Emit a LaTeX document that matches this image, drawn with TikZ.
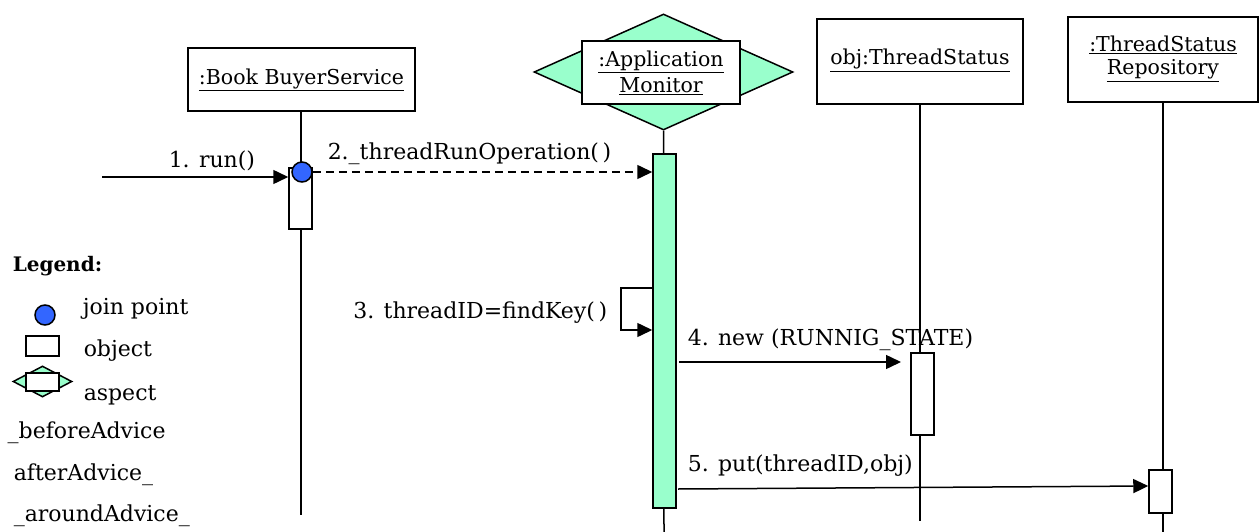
\documentclass[tikz,border=0pt]{standalone}
\usepackage{fontspec}
\setmainfont{DejaVu Serif}
\usetikzlibrary{arrows.meta,shapes.geometric}
\definecolor{mint}{RGB}{153,255,204}
\definecolor{jpblue}{RGB}{51,102,255}
\begin{document}
\begin{tikzpicture}[x=1pt,y=-1pt,line width=1.5pt,
  txt/.style={font=\fontsize{22}{26}\selectfont,inner sep=0pt},
  objbox/.style={draw,fill=white,inner sep=0pt,align=center,font=\fontsize{20.5}{26}\selectfont},
  actbar/.style={draw,fill=white,inner sep=0pt,minimum width=23pt},
  aspbar/.style={draw,fill=mint,inner sep=0pt,minimum width=23pt},
  aspdiamond/.style={draw,fill=mint,diamond,inner sep=0pt},
  jp/.style={draw,fill=jpblue,circle,inner sep=0pt,minimum size=20pt},
  msg/.style={-{Triangle[length=15pt,width=14pt]}},
  dmsg/.style={msg,dash pattern=on 8pt off 5pt}]
\useasboundingbox (0,0) rectangle (1260,532);

% ---------- objects ----------
\node[objbox,minimum width=227pt,minimum height=63pt] (bbs) at (301.5,79.5) {\raisebox{-3pt}{\underline{:Book BuyerService}}};
\node[aspdiamond,minimum width=259pt,minimum height=116pt,aspect=2.23] (amd) at (663.5,72) {};
\node[objbox,minimum width=158pt,minimum height=63pt] (am) at (661,72.5) {\underline{:Application}\\\underline{Monitor}};
\node[objbox,minimum width=206pt,minimum height=85pt] (ots) at (920,61.5) {\raisebox{9pt}{\underline{obj:ThreadStatus}}};
\node[objbox,minimum width=190pt,minimum height=85pt] (rp) at (1163,59.5) {\raisebox{8pt}{\shortstack{\underline{:ThreadStatus}\\[3pt]\underline{Repository}}}};

% ---------- lifeline ends ----------
\coordinate (bbsend) at (301,515);
\coordinate (amend) at (664,532);
\coordinate (otsend) at (920,521);
\coordinate (rpend) at (1163,532);

\draw (bbs.south -| bbsend) -- (bbsend);
\draw (amd.south) -- (amend);
\draw (ots.south -| otsend) -- (otsend);
\draw (rp.south -| rpend) -- (rpend);

% ---------- activation bars ----------
\node[actbar,minimum height=61pt] (bbsact) at (300.5,198.5) {};
\node[aspbar,minimum height=354pt] (amact) at (664.5,331) {};
\node[actbar,minimum height=82pt] (otsact) at (922.5,394) {};
\node[actbar,minimum height=43pt] (rpact) at (1160.5,491.5) {};
\node[jp] (jp1) at (302,172) {};

% ---------- messages ----------
\coordinate (m1s) at (102,177);
\draw[msg] (m1s) -- (m1s -| bbsact.west);
\node[txt,anchor=base west] (l1) at (168,167) {1. run()};

\draw[dmsg] (jp1.east) -- (jp1.east -| amact.west);
\node[txt,anchor=base west] (l2) at (327,159) {2.\_threadRunOperation(\,)};

\coordinate (m3a) at (621,288);
\coordinate (m3b) at (621,330);
\draw[msg] (m3a -| amact.west) -- (m3a) -- (m3b) -- (m3b -| amact.west);
\node[txt,anchor=base east] (l3) at (608,318) {3. threadID=findKey(\,)};

\coordinate (m4s) at (679,362);
\coordinate (m4e) at (901,362);
\draw[msg] (m4s) -- (m4e);
\node[txt,anchor=base west] (l4) at (687,345) {4. new (RUNNIG\_STATE)};

\coordinate (m5s) at (678,489);
\draw[msg] (m5s) -- (rpact.west |- 0,486);
\node[txt,anchor=base west] (l5) at (687,471) {5. put(threadID,obj)};

% ---------- legend ----------
\node[txt,anchor=base west,font=\fontsize{20}{26}\selectfont\bfseries] (lg) at (12,271) {Legend:};
\node[jp] (lgjp) at (45,315) {};
\node[txt,anchor=base west] (lgjpt) at (82,314) {join point};
\node[draw,fill=white,inner sep=0pt,minimum width=33pt,minimum height=20pt] (lgobj) at (42.5,346) {};
\node[txt,anchor=base west] (lgobjt) at (83,356) {object};
\node[aspdiamond,minimum width=59pt,minimum height=31pt,aspect=1.9] (lgad) at (42.5,381.5) {};
\node[draw,fill=white,inner sep=0pt,minimum width=33pt,minimum height=18pt] (lgab) at (42.5,382) {};
\node[txt,anchor=base west] (lgat) at (83,400) {aspect};
\node[txt,anchor=base west] (lgb) at (7,438) {\_beforeAdvice};
\node[txt,anchor=base west] (lga) at (13,480) {afterAdvice\_};
\node[txt,anchor=base west] (lgr) at (13,521) {\_aroundAdvice\_};
\end{tikzpicture}
\end{document}
